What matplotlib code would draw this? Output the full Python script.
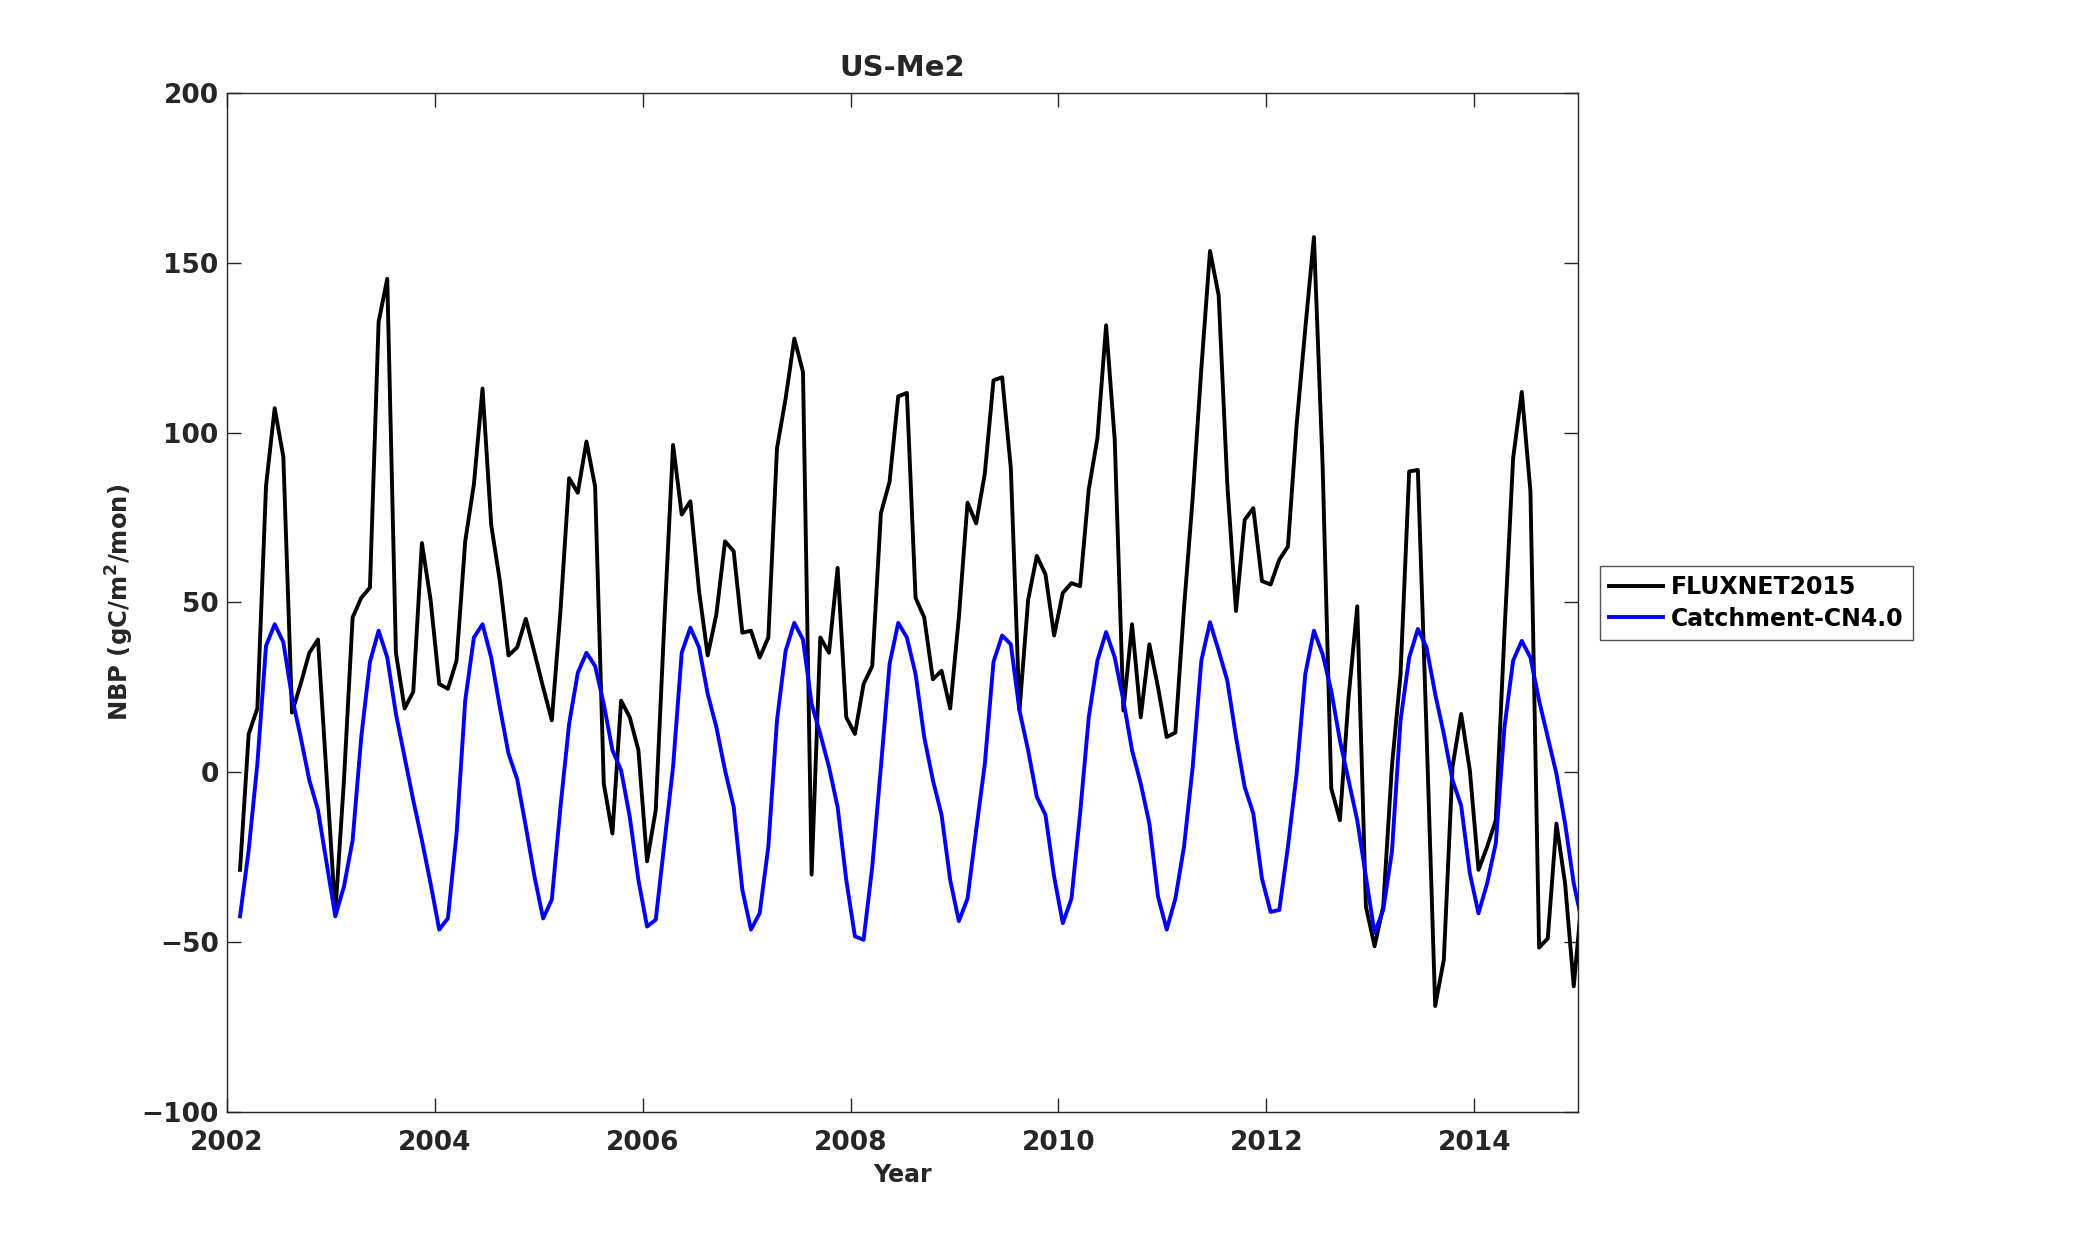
import numpy as np
import pandas as pd
import matplotlib
matplotlib.use('Agg')
import matplotlib.pyplot as plt

# monthly NBP, Feb 2002 - Jan 2015 (gC/m2/mon)
months = pd.period_range('2002-02', '2015-01', freq='M')

fluxnet = [-28.7, 11.3, 18.8, 84.3, 107.2, 92.9, 17.6, 26.0, 35.2, 39.1, -1.0,
           -41.5, -2.3, 45.6, 51.4, 54.4, 132.6, 145.3, 35.2, 18.8, 23.7, 67.5, 50.8,
           26.0, 24.6, 32.9, 68.0, 84.7, 113.0, 72.9, 56.3, 34.4, 36.8, 45.2, 35.2,
           25.0, 15.3, 47.5, 86.6, 82.3, 97.4, 84.1, -3.3, -18.0, 21.1, 16.2, 6.5,
           -26.2, -11.1, 44.6, 96.4, 75.9, 79.8, 53.4, 34.4, 46.5, 68.0, 65.1, 41.1,
           41.7, 33.8, 39.7, 95.4, 110.1, 127.7, 117.9, -30.1, 39.7, 35.2, 60.2, 16.2,
           11.3, 26.0, 31.3, 76.3, 85.6, 110.7, 111.7, 51.4, 45.6, 27.4, 29.9, 18.8,
           45.6, 79.4, 73.3, 88.0, 115.4, 116.3, 89.6, 18.2, 50.8, 63.7, 58.3, 40.3,
           52.8, 55.7, 54.8, 83.3, 98.4, 131.6, 97.8, 18.2, 43.6, 16.2, 37.7, 25.0,
           10.4, 11.7, 48.5, 80.8, 118.9, 153.5, 140.4, 84.7, 47.5, 74.3, 77.8, 56.3,
           55.3, 62.6, 66.5, 102.3, 130.6, 157.6, 90.5, -4.7, -14.1, 22.1, 48.9, -39.5,
           -51.2, -39.5, 1.6, 28.9, 88.6, 89.0, 12.0, -68.8, -55.1, 1.6, 17.2, 0.6,
           -28.7, -21.9, -14.1, 41.1, 92.5, 112.0, 82.7, -51.6, -48.9, -15.1, -32.7, -63.0,
           -35.0]

catchment = [-42.4, -22.9, 2.5, 37.2, 43.6, 38.3, 22.1, 10.4, -2.3, -11.1, -26.8,
             -42.4, -33.6, -20.0, 10.4, 32.5, 41.7, 33.8, 17.2, 4.5, -8.2, -20.0, -32.7,
             -46.3, -43.0, -18.0, 21.1, 39.7, 43.6, 33.8, 19.2, 5.5, -2.0, -16.0, -30.7,
             -43.0, -37.5, -10.2, 14.3, 29.3, 35.2, 31.3, 20.1, 6.5, 0.6, -13.1, -31.7,
             -45.4, -43.4, -20.9, 1.6, 35.2, 42.6, 36.8, 23.1, 13.3, 0.6, -10.2, -34.6,
             -46.3, -41.5, -21.9, 15.3, 35.8, 44.0, 39.1, 20.1, 11.3, 1.6, -10.2, -31.7,
             -48.3, -49.3, -27.8, 1.6, 31.9, 44.0, 39.7, 29.0, 10.4, -2.3, -12.5, -31.7,
             -43.8, -37.2, -17.0, 2.5, 32.5, 40.3, 37.7, 18.2, 6.5, -7.2, -12.5, -30.7,
             -44.4, -37.2, -12.1, 16.2, 32.9, 41.3, 33.8, 21.1, 6.5, -3.3, -15.1, -36.6,
             -46.3, -37.2, -21.9, 1.6, 32.9, 44.2, 35.8, 27.0, 10.4, -4.3, -12.1, -31.3,
             -41.1, -40.5, -21.9, -0.4, 28.9, 41.7, 34.8, 24.0, 9.4, -2.3, -14.1, -30.7,
             -47.3, -40.5, -23.5, 15.3, 33.8, 42.2, 36.8, 23.1, 11.3, -2.3, -9.8, -29.7,
             -41.5, -32.7, -20.9, 13.3, 32.9, 38.7, 33.8, 21.1, 10.4, -0.4, -15.1, -32.7,
             -44.6]

xticks = [2002, 2004, 2006, 2008, 2010, 2012, 2014]
yticks = [-100, -50, 0, 50, 100, 150, 200]

# decimal year at mid-month
t = months.year + (months.month - 0.5) / 12.0

grey = '#262626'
plt.rcParams['font.family'] = ['DejaVu Sans']
plt.rcParams['font.weight'] = 'bold'

fig = plt.figure(figsize=(20.83, 12.5), dpi=100)
ax = fig.add_axes([0.109, 0.1104, 0.6486, 0.8152])

ax.plot(t, fluxnet, color='black', lw=2.8, label='FLUXNET2015')
ax.plot(t, catchment, color='#0000ff', lw=2.8, label='Catchment-CN4.0')

ax.set_xlim(2002, 2015)
ax.set_ylim(-100, 200)
ax.set_xticks(xticks)
ax.set_yticks(yticks)
ax.tick_params(direction='in', length=10, width=1, colors=grey, labelsize=19,
               top=True, right=True)
ax.tick_params(axis='x', pad=13)
ax.tick_params(axis='y', pad=6)
for lab in ax.get_xticklabels() + ax.get_yticklabels():
    lab.set_fontweight('bold')
for s in ax.spines.values():
    s.set_color(grey)
    s.set_linewidth(1.0)

ax.set_xlabel('Year', fontsize=17, fontweight='bold', color=grey, labelpad=5)
ax.set_ylabel(r'NBP (gC/m$^{\mathbf{2}}$/mon)', fontsize=17.5, fontweight='bold',
              color=grey, labelpad=4)
ax.set_title('US-Me2', fontsize=21, fontweight='bold', color=grey, pad=12)

leg = ax.legend(loc='upper left', bbox_to_anchor=(0.768, 0.5472),
                bbox_transform=fig.transFigure, fontsize=17, frameon=True,
                fancybox=False, handlelength=2.3, handletextpad=0.3,
                labelspacing=0.3, borderpad=0.4, borderaxespad=0)
leg.get_frame().set_edgecolor(grey)
leg.get_frame().set_linewidth(1.0)
for txt in leg.get_texts():
    txt.set_fontweight('bold')

fig.savefig('out.png', dpi=100)
